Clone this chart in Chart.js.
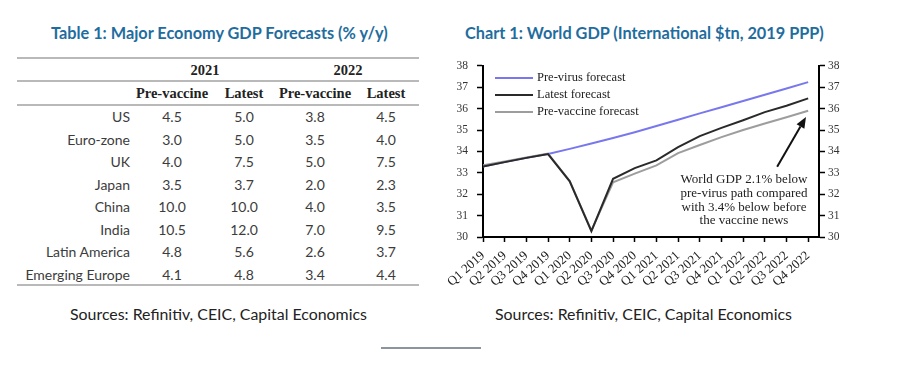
<!DOCTYPE html>
<html>
<head>
<meta charset="utf-8">
<script src="https://cdn.jsdelivr.net/npm/chart.js@4"></script>
<style>
  html, body { margin: 0; padding: 0; background: #fff; }
  #page { position: relative; width: 901px; height: 376px; overflow: hidden; font-family: Lato, "Open Sans", sans-serif; }
  .title { position: absolute; top: 23px; font-weight: 700; font-size: 16.3px; color: #1f6d9e; white-space: nowrap; line-height: 20px; }
  .rule { position: absolute; left: 17px; width: 402px; height: 2px; background: #b9b9b9; }
  .cell { position: absolute; white-space: nowrap; line-height: 20px; height: 20px; }
  .num { width: 64px; text-align: center; font-size: 14px; color: #3c3c3c; }
  .lab { left: 0; width: 130px; text-align: right; font-size: 14px; color: #3c3c3c; }
  .head { width: 100px; text-align: center; font-family: "Liberation Serif", serif; font-weight: 700; font-size: 14.5px; color: #222; }
  .src { position: absolute; top: 304px; font-size: 15.9px; color: #222; white-space: nowrap; line-height: 20px; }
  #divider { position: absolute; left: 381px; top: 347px; width: 100px; height: 2px; background: #8c959d; }
  #gdp { position: absolute; left: 440px; top: 50px; }
</style>
</head>
<body>
<div id="page">
  <div class="title" style="left:51px">Table 1: Major Economy GDP Forecasts (% y/y)</div>
  <div class="title" style="left:465px">Chart 1: World GDP (International $tn, 2019 PPP)</div>
  <div id="table"></div>
  <canvas id="gdp" width="420" height="250"></canvas>
  <div class="src" style="left:70px">Sources: Refinitiv, CEIC, Capital Economics</div>
  <div class="src" style="left:495px">Sources: Refinitiv, CEIC, Capital Economics</div>
  <div id="divider"></div>
</div>
<script>
  // table data
  const countries = ["US", "Euro-zone", "UK", "Japan", "China", "India", "Latin America", "Emerging Europe"];
  const preVaccine2021 = ["4.5", "3.0", "4.0", "3.5", "10.0", "10.5", "4.8", "4.1"];
  const latest2021 = ["5.0", "5.0", "7.5", "3.7", "10.0", "12.0", "5.6", "4.8"];
  const preVaccine2022 = ["3.8", "3.5", "5.0", "2.0", "4.0", "7.0", "2.6", "3.4"];
  const latest2022 = ["4.5", "4.0", "7.5", "2.3", "3.5", "9.5", "3.7", "4.4"];
  const yearHeads = ["2021", "2022"];
  const colHeads = ["Pre-vaccine", "Latest", "Pre-vaccine", "Latest"];

  // chart data
  const quarters = ["Q1 2019", "Q2 2019", "Q3 2019", "Q4 2019", "Q1 2020", "Q2 2020", "Q3 2020", "Q4 2020",
    "Q1 2021", "Q2 2021", "Q3 2021", "Q4 2021", "Q1 2022", "Q2 2022", "Q3 2022", "Q4 2022"];
  const preVirus = [33.30, 33.50, 33.70, 33.88, 34.12, 34.37, 34.63, 34.90, 35.19, 35.48, 35.78, 36.07, 36.36, 36.65, 36.94, 37.24];
  const latestFc = [33.30, 33.50, 33.70, 33.88, 32.60, 30.27, 32.72, 33.22, 33.58, 34.20, 34.72, 35.10, 35.46, 35.84, 36.14, 36.48];
  const preVaccineFc = [33.35, 33.53, 33.72, 33.90, 32.62, 30.30, 32.56, 32.96, 33.35, 33.92, 34.30, 34.67, 35.00, 35.31, 35.60, 35.90];
  const noteLines = ["World GDP 2.1% below", "pre-virus path compared", "with 3.4% below before", "the vaccine news"];
  const noteAt = [12.04, 32.68];
  const arrowFrom = [13.57, 33.29];
  const arrowTo = [14.9, 35.61];

  function buildTable() {
    const host = document.getElementById("table");
    const colCenters = [172, 244, 315, 386];

    function add(cls, text, left, centerY) {
      const el = document.createElement("div");
      el.className = "cell " + cls;
      el.textContent = text;
      if (left !== null) el.style.left = left + "px";
      el.style.top = (centerY - 10) + "px";
      host.appendChild(el);
    }

    [58, 81, 105, 285].forEach((y) => {
      const r = document.createElement("div");
      r.className = "rule";
      r.style.top = (y - 1) + "px";
      host.appendChild(r);
    });

    add("head", yearHeads[0], 205 - 50, 70);
    add("head", yearHeads[1], 348 - 50, 70);
    colHeads.forEach((h, i) => add("head", h, colCenters[i] - 50, 93));

    const cols = [preVaccine2021, latest2021, preVaccine2022, latest2022];
    countries.forEach((name, r) => {
      const cy = 117 + r * 22.57;
      add("lab", name, null, cy);
      cols.forEach((col, c) => add("num", col[r], colCenters[c] - 32, cy));
    });
  }

  const overlayPlugin = {
    id: "overlay",
    afterDatasetsDraw(chart) {
      const { ctx, chartArea, scales } = chart;
      const x = scales.x, y = scales.y;
      ctx.save();

      // legend inside the plot, in the source order
      ctx.font = '12.5px "Liberation Serif"';
      ctx.textBaseline = "middle";
      ctx.textAlign = "left";
      chart.data.datasets.forEach((ds, i) => {
        const ly = chartArea.top + 12 + i * 17;
        ctx.strokeStyle = ds.borderColor;
        ctx.lineWidth = 2;
        ctx.beginPath();
        ctx.moveTo(chartArea.left + 12, ly);
        ctx.lineTo(chartArea.left + 50, ly);
        ctx.stroke();
        ctx.fillStyle = "#222";
        ctx.fillText(ds.label, chartArea.left + 54, ly);
      });

      // arrow
      const x1 = x.getPixelForValue(arrowFrom[0]), y1 = y.getPixelForValue(arrowFrom[1]);
      const x2 = x.getPixelForValue(arrowTo[0]), y2 = y.getPixelForValue(arrowTo[1]);
      const ang = Math.atan2(y2 - y1, x2 - x1);
      const headLen = 11, headW = 4.5;
      const bx = x2 - headLen * Math.cos(ang), by = y2 - headLen * Math.sin(ang);
      ctx.strokeStyle = "#111";
      ctx.lineWidth = 2;
      ctx.beginPath();
      ctx.moveTo(x1, y1);
      ctx.lineTo(bx, by);
      ctx.stroke();
      ctx.fillStyle = "#111";
      ctx.beginPath();
      ctx.moveTo(x2, y2);
      ctx.lineTo(bx + headW * Math.sin(ang), by - headW * Math.cos(ang));
      ctx.lineTo(bx - headW * Math.sin(ang), by + headW * Math.cos(ang));
      ctx.closePath();
      ctx.fill();

      // note
      ctx.font = '13px "Liberation Serif"';
      ctx.textAlign = "center";
      ctx.fillStyle = "#222";
      const nx = x.getPixelForValue(noteAt[0]);
      const ny = y.getPixelForValue(noteAt[1]);
      noteLines.forEach((t, i) => ctx.fillText(t, nx, ny + i * 13.7));

      ctx.restore();
    },
  };

  function createChart() {
    const ctx = document.getElementById("gdp").getContext("2d");
    const tickFont = { family: "Liberation Serif", size: 11.5 };

    return new Chart(ctx, {
      type: "line",
      data: {
        datasets: [
          { label: "Pre-virus forecast", data: preVirus.map((v, i) => ({ x: i, y: v })), borderColor: "#7877ee", order: 3 },
          { label: "Latest forecast", data: latestFc.map((v, i) => ({ x: i, y: v })), borderColor: "#2a2a2a", order: 1 },
          { label: "Pre-vaccine forecast", data: preVaccineFc.map((v, i) => ({ x: i, y: v })), borderColor: "#9d9d9d", order: 2 },
        ],
      },
      options: {
        responsive: false,
        animation: false,
        devicePixelRatio: 1,
        layout: { padding: { top: 12, left: 0, right: 0, bottom: 0 } },
        elements: {
          point: { radius: 0 },
          line: { tension: 0, borderWidth: 2 },
        },
        plugins: {
          legend: { display: false },
          tooltip: { enabled: false },
        },
        scales: {
          x: {
            type: "linear",
            min: 0,
            max: 15.5,
            afterBuildTicks: (s) => { s.ticks = quarters.map((_, i) => ({ value: i })); },
            afterFit: (s) => { s.height = 63; },
            ticks: {
              autoSkip: false,
              minRotation: 42,
              maxRotation: 42,
              padding: 6,
              color: "#222",
              font: { family: "Liberation Serif", size: 13 },
              callback: (v) => quarters[v] ?? "",
            },
            grid: { drawOnChartArea: false, tickLength: 5, tickColor: "#000", tickWidth: 1.5 },
            border: { color: "#000", width: 2 },
          },
          y: {
            position: "left",
            min: 30,
            max: 38,
            afterFit: (s) => { s.width = 43; },
            ticks: { stepSize: 1, padding: 9, color: "#333", font: tickFont },
            grid: { drawOnChartArea: false, tickLength: 6, tickColor: "#000", tickWidth: 1.5 },
            border: { color: "#000", width: 2 },
          },
          y2: {
            position: "right",
            min: 30,
            max: 38,
            afterFit: (s) => { s.width = 41; },
            ticks: { stepSize: 1, padding: 3, color: "#333", font: tickFont },
            grid: { drawOnChartArea: false, tickLength: 6, tickColor: "#000", tickWidth: 1.5 },
            border: { color: "#000", width: 2 },
          },
        },
      },
      plugins: [overlayPlugin],
    });
  }

  buildTable();
  createChart();
</script>
</body>
</html>
